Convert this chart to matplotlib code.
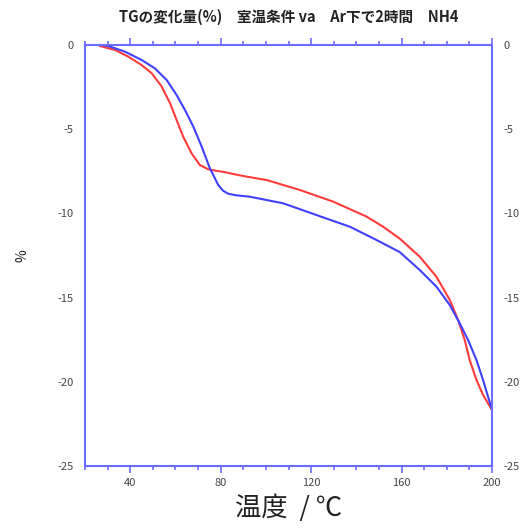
import numpy as np
import matplotlib.pyplot as plt
from matplotlib.ticker import MultipleLocator

plt.rcParams['font.family'] = ['Noto Sans CJK JP', 'DejaVu Sans']
plt.rcParams['axes.unicode_minus'] = False

# --- données ---
temp_red = [26.6, 33.3, 39.1, 45.0, 49.5, 53.9, 57.6, 60.5, 63.4, 67.1, 70.8, 74.5,
            78.0, 81.9, 85.5, 90.7, 100.3, 115.0, 129.7, 144.5, 151.8, 159.2, 168.0,
            175.4, 181.3, 185.0, 187.9, 190.1, 193.1, 196.0, 199.7]
tg_red = [-0.06, -0.30, -0.69, -1.19, -1.68, -2.47, -3.46, -4.45, -5.44, -6.43, -7.13,
          -7.38, -7.47, -7.55, -7.66, -7.80, -8.02, -8.61, -9.30, -10.19, -10.79, -11.50,
          -12.57, -13.76, -15.14, -16.33, -17.52, -18.71, -19.89, -20.78, -21.62]

temp_blue = [26.6, 30.3, 37.7, 45.0, 50.9, 56.1, 60.5, 64.2, 67.9, 71.6, 75.2, 78.9,
             81.0, 83.3, 86.5, 92.9, 107.6, 122.4, 137.1, 148.9, 159.2, 168.0, 175.4,
             181.3, 185.7, 189.4, 193.1, 196.0, 199.7]
tg_blue = [0.0, -0.06, -0.40, -0.89, -1.39, -2.08, -2.97, -3.86, -4.85, -6.04, -7.32,
           -8.31, -8.65, -8.83, -8.92, -9.01, -9.40, -10.10, -10.79, -11.58, -12.30,
           -13.36, -14.35, -15.44, -16.53, -17.52, -18.71, -19.89, -21.55]

titre = 'TGの変化量(%)　室温条件 va　Ar下で2時間　NH4'
spine_col = '#6b6bff'
txt_col = '#444444'

fig = plt.figure(figsize=(5.28, 5.29), dpi=100)
ax = fig.add_axes([0.161, 0.119, 0.771, 0.796])

ax.plot(temp_red, tg_red, color='#ff3b3b', lw=1.5)
ax.plot(temp_blue, tg_blue, color='#4040ff', lw=1.5)

ax.set_xlim(20, 200)
ax.set_ylim(-25, 0)
ax.set_xticks([40, 80, 120, 160, 200])
ax.xaxis.set_minor_locator(MultipleLocator(10))
ax.yaxis.set_major_locator(MultipleLocator(5))

for s in ax.spines.values():
    s.set_color(spine_col)
    s.set_linewidth(1.5)

ax.tick_params(axis='x', which='both', direction='out', top=True, color=spine_col,
               labelsize=8, labelcolor=txt_col)
ax.tick_params(axis='x', which='major', length=5, width=1.2)
ax.tick_params(axis='x', which='minor', length=3, width=1.2)
ax.tick_params(axis='y', length=0, left=True, right=True, labelleft=True, labelright=True,
               labelsize=8, labelcolor=txt_col, pad=8)

ax.set_title(titre, fontsize=10.5, fontweight='bold', color='#222222', pad=17)
ax.set_xlabel('温度  / ℃', fontsize=19, color='#222222', labelpad=5)
ax.set_ylabel('%', fontsize=10, color='#222222', labelpad=20)

fig.savefig('out.png', dpi=100)
